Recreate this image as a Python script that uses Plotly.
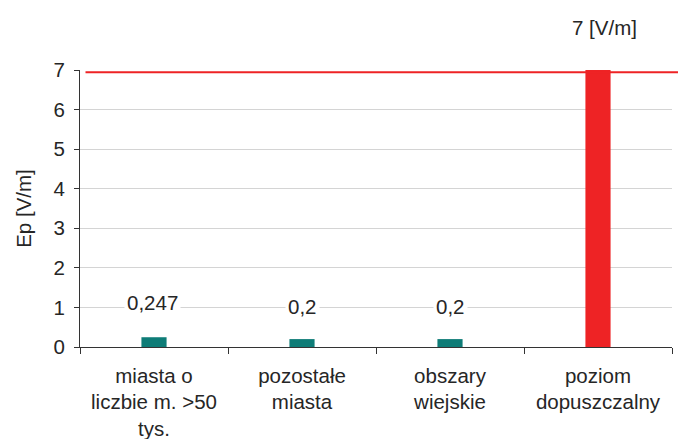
import plotly.graph_objects as go

categories = ["miasta o<br>liczbie m. >50<br>tys.", "pozostałe<br>miasta", "obszary<br>wiejskie", "poziom<br>dopuszczalny"]
values = [0.247, 0.2, 0.2, 7.0]
value_labels = ["0,247", "0,2", "0,2", "7 [V/m]"]
bar_colors = ["#0e7c77", "#0e7c77", "#0e7c77", "#ee2325"]
limit_value = 6.94
y_ticks = [0, 1, 2, 3, 4, 5, 6, 7]

FONT = "Liberation Sans, Arial, sans-serif"
TXT = "#262626"
FS = 20.5

fig = go.Figure()
fig.add_trace(go.Bar(
    x=categories, y=values, marker=dict(color=bar_colors, line=dict(width=0)),
    width=0.17, showlegend=False, hoverinfo="skip",
))

label_shift = [35, 33, 33, 43]
label_xshift = [-2, 0, 0, 6]
for c, v, t, s, xs in zip(categories, values, value_labels, label_shift, label_xshift):
    fig.add_annotation(x=c, y=v, text=t, showarrow=False, yanchor="middle",
                       yshift=s, xshift=xs, bgcolor="white", borderpad=2,
                       font=dict(size=FS, color=TXT, family=FONT))

fig.add_shape(type="line", xref="paper", yref="y", x0=0.0093, x1=1.0101,
              y0=limit_value, y1=limit_value, line=dict(color="#ee2325", width=2), layer="above")

fig.update_layout(
    width=678, height=439,
    margin=dict(l=79.5, r=6, t=69.5, b=92),
    plot_bgcolor="white", paper_bgcolor="white",
    font=dict(family=FONT, size=FS, color=TXT),
    bargap=0.83,
    xaxis=dict(
        type="category", showgrid=False, showline=True, linecolor="#333333", linewidth=1,
        ticks="outside", tickson="boundaries", ticklen=6, tickcolor="#333333",
        tickfont=dict(size=FS, color=TXT, family=FONT), range=[-0.5, 3.5],
        ticklabelstandoff=10, automargin=False,
    ),
    yaxis=dict(
        range=[0, 7], tickvals=y_ticks, showgrid=True, gridcolor="#d4d4d4", gridwidth=1,
        showline=True, linecolor="#333333", linewidth=1, ticks="outside", ticklen=5,
        tickcolor="#333333", zeroline=False, ticklabelstandoff=5, automargin=False,
        tickfont=dict(size=FS, color=TXT, family=FONT),
        title=dict(text="Ep [V/m]", font=dict(size=FS, color=TXT, family=FONT), standoff=16),
    ),
)

fig.write_html("out.html")
